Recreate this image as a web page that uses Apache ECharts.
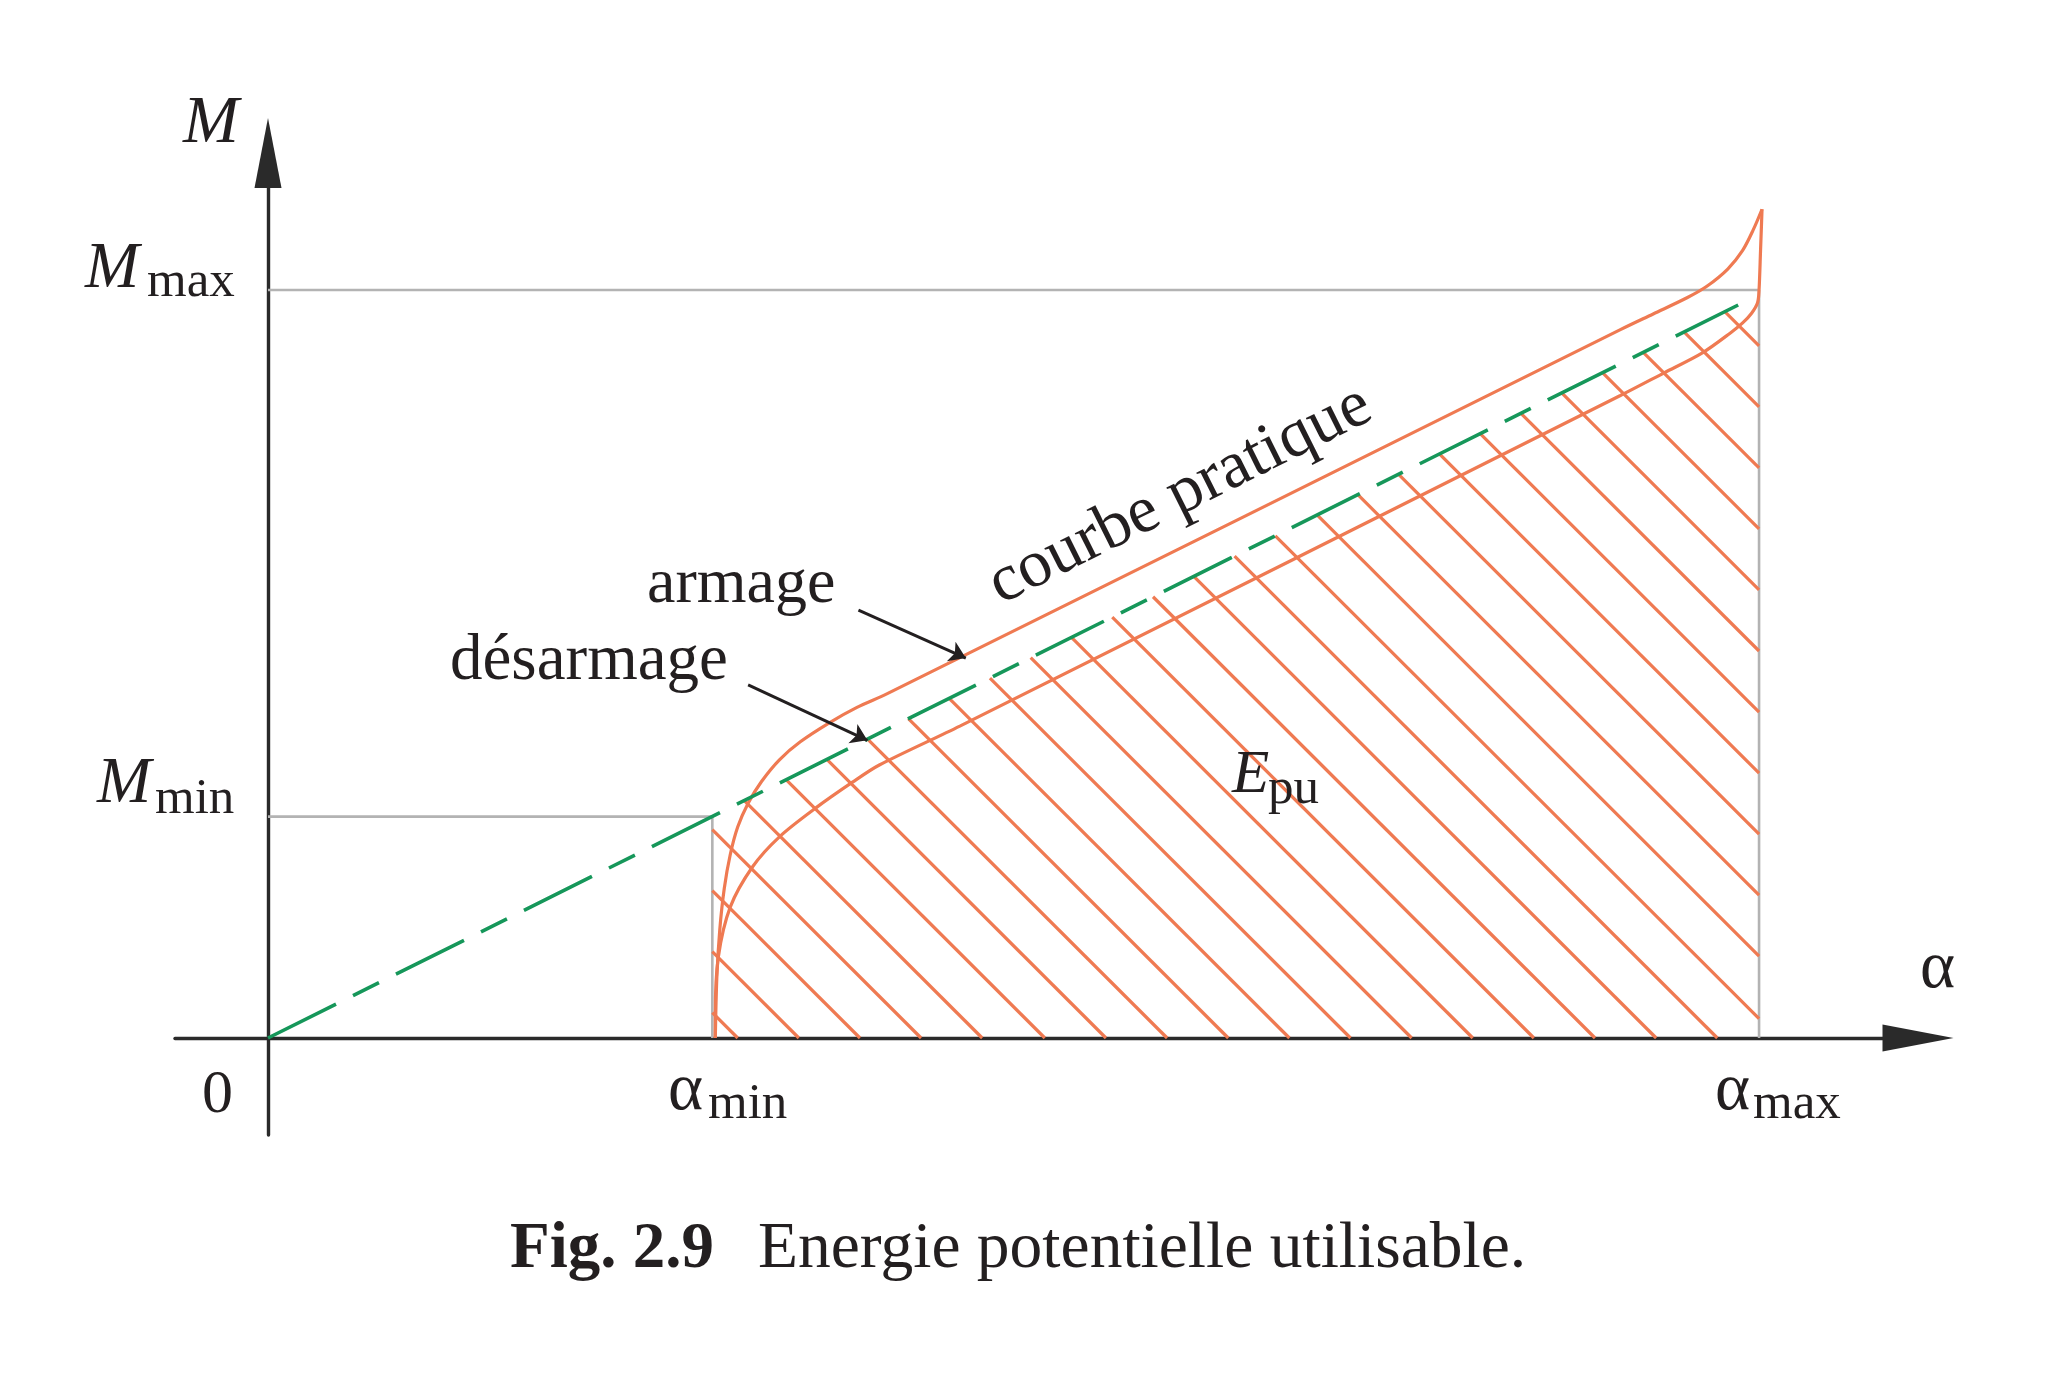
<!DOCTYPE html>
<html>
<head>
<meta charset="utf-8">
<script src="https://cdn.jsdelivr.net/npm/echarts@6/dist/echarts.min.js"></script>
<style>
  html, body { margin: 0; padding: 0; background: #fff; }
  #chart { width: 2061px; height: 1394px; }
</style>
</head>
<body>
<div id="chart"></div>
<script>
// valeurs (unités arbitraires : alpha_max = M_max = 10)
var alphaMin = 2.98, alphaMax = 10;
var mMin = 2.96, mMax = 10;

// droite théorique (tirets verts)
var theorique = [[0, 0], [9.86, 9.80]];

// courbe pratique, branche armage (montée)
var armage = [
  [3.00, 0], [3.01, 0.80], [3.03, 1.45], [3.06, 2.00], [3.10, 2.45], [3.15, 2.82],
  [3.22, 3.14], [3.31, 3.43], [3.43, 3.72], [3.57, 3.96], [3.77, 4.22], [3.95, 4.42],
  [4.15, 4.60], [9.07, 9.47], [9.29, 9.68], [9.52, 9.90], [9.65, 10.05], [9.79, 10.28],
  [9.89, 10.53], [9.96, 10.80], [10.02, 11.08]
];

// courbe pratique, branche désarmage (retour)
var desarmage = [
  [10.02, 11.08], [10.01, 10.53], [10.00, 10.00], [9.99, 9.83], [9.95, 9.69], [9.89, 9.56],
  [9.81, 9.43], [9.62, 9.16], [9.36, 8.89], [9.07, 8.59], [4.64, 4.17], [4.10, 3.65],
  [3.92, 3.42], [3.67, 3.07], [3.43, 2.69], [3.25, 2.29], [3.10, 1.75], [3.02, 1.08],
  [3.00, 0.33], [3.00, 0]
];

// hachures de E_pu : abscisse où chaque trait coupe l'axe alpha (prolongé)
var hachures = [3.15, 3.56, 3.97, 4.38, 4.79, 5.21, 5.62, 6.03, 6.44, 6.85, 7.26, 7.67,
  8.08, 8.49, 8.90, 9.31, 9.72, 10.13, 10.55, 10.96, 11.37, 11.78, 12.19, 12.60,
  13.01, 13.42, 13.83, 14.24, 14.65];
var penteHachure = 1.99;

// flèches des étiquettes armage / désarmage
var fleches = [
  [[3.96, 5.72], [4.68, 5.08]],
  [[3.22, 4.72], [4.02, 3.98]]
];

var ORANGE = '#ef7a52', GREEN = '#16975a', GRAY = '#b3b3b3', INK = '#231f20';
var SERIF = '"Liberation Serif", "DejaVu Serif", serif';

// texte posé sur sa ligne de base
function label(x, base, str, size, opt) {
  opt = opt || {};
  return {
    type: 'text', x: x, y: base, rotation: opt.rotation || 0, z: 100,
    style: {
      text: str, x: 0, y: -0.305 * size,
      fontFamily: SERIF, fontSize: size,
      fontStyle: opt.italic ? 'italic' : 'normal',
      fontWeight: opt.bold ? 'bold' : 'normal',
      fill: INK, align: 'left', verticalAlign: 'middle'
    }
  };
}

var chart = echarts.init(document.getElementById('chart'));

var option = {
  animation: false,
  backgroundColor: '#fff',
  grid: { left: 175, right: 143, top: 153, bottom: 259 },
  xAxis: {
    type: 'value', min: -0.6237, max: 11.066,
    splitLine: { show: false }, axisTick: { show: false }, axisLabel: { show: false },
    axisLine: {
      onZero: true, symbol: ['none', 'triangle'], symbolSize: [27, 71],
      lineStyle: { color: '#2a2a2a', width: 3.4 }
    }
  },
  yAxis: {
    type: 'value', min: -1.2968, max: 11.832,
    splitLine: { show: false }, axisTick: { show: false }, axisLabel: { show: false },
    axisLine: {
      onZero: true, symbol: ['none', 'triangle'], symbolSize: [27, 70],
      lineStyle: { color: '#2a2a2a', width: 3.4 }
    }
  },
  series: [
    {
      name: 'repères max', type: 'line', symbol: 'none', z: 1,
      lineStyle: { color: GRAY, width: 2.6 },
      data: [[0, mMax], [alphaMax, mMax], [alphaMax, 0]]
    },
    {
      name: 'repères min', type: 'line', symbol: 'none', z: 1,
      lineStyle: { color: GRAY, width: 2.6 },
      data: [[0, mMin], [alphaMin, mMin], [alphaMin, 0]]
    },
    {
      name: 'Epu', type: 'custom', z: 2,
      data: hachures.map(function (c) { return [c, 0]; }),
      renderItem: function (params, api) {
        var c = api.value(0);
        var g = theorique[1][1] / theorique[1][0];
        var k = penteHachure;
        var bas = c <= alphaMax ? [c, 0] : [alphaMax, k * (c - alphaMax)];
        var xt = k * c / (g + k);
        var haut = xt < alphaMin ? [alphaMin, k * (c - alphaMin)] : [xt, g * xt];
        var p1 = api.coord(haut), p2 = api.coord(bas);
        return {
          type: 'line',
          shape: { x1: p1[0], y1: p1[1], x2: p2[0], y2: p2[1] },
          style: { stroke: ORANGE, lineWidth: 3.2, fill: null }
        };
      }
    },
    {
      name: 'armage', type: 'line', symbol: 'none', smooth: 0.3, z: 3,
      lineStyle: { color: ORANGE, width: 3.2 },
      data: armage
    },
    {
      name: 'désarmage', type: 'line', symbol: 'none', smooth: 0.3, z: 3,
      lineStyle: { color: ORANGE, width: 3.2 },
      data: desarmage
    },
    {
      name: 'théorique', type: 'line', symbol: 'none', z: 4,
      lineStyle: { color: GREEN, width: 3.6, type: [76, 19, 29, 19] },
      data: theorique
    },
    {
      name: 'flèches', type: 'lines', coordinateSystem: 'cartesian2d', z: 5,
      symbol: ['none', 'arrow'], symbolSize: 16,
      lineStyle: { color: INK, width: 3, opacity: 1, curveness: 0 },
      data: fleches.map(function (f) { return { coords: f }; })
    }
  ],
  graphic: [
    label(183, 145, 'M', 67, { italic: true }),
    label(85, 290, 'M', 65, { italic: true }),
    label(147, 298, 'max', 51),
    label(97, 805, 'M', 65, { italic: true }),
    label(155, 815, 'min', 51),
    label(202, 1115, '0', 62),
    label(668, 1112, 'α', 67),
    label(708, 1120, 'min', 51),
    label(1715, 1112, 'α', 67),
    label(1753, 1120, 'max', 51),
    label(1920, 990, 'α', 67),
    label(647, 605, 'armage', 64),
    label(450, 682, 'désarmage', 65),
    label(1002, 607, 'courbe pratique', 67, { rotation: 26.5 * Math.PI / 180 }),
    label(1232, 795, 'E', 61, { italic: true }),
    label(1268, 805, 'pu', 51),
    label(510, 1270, 'Fig. 2.9', 65, { bold: true }),
    label(758, 1270, 'Energie potentielle utilisable.', 65.5)
  ]
};

chart.setOption(option);
</script>
</body>
</html>
